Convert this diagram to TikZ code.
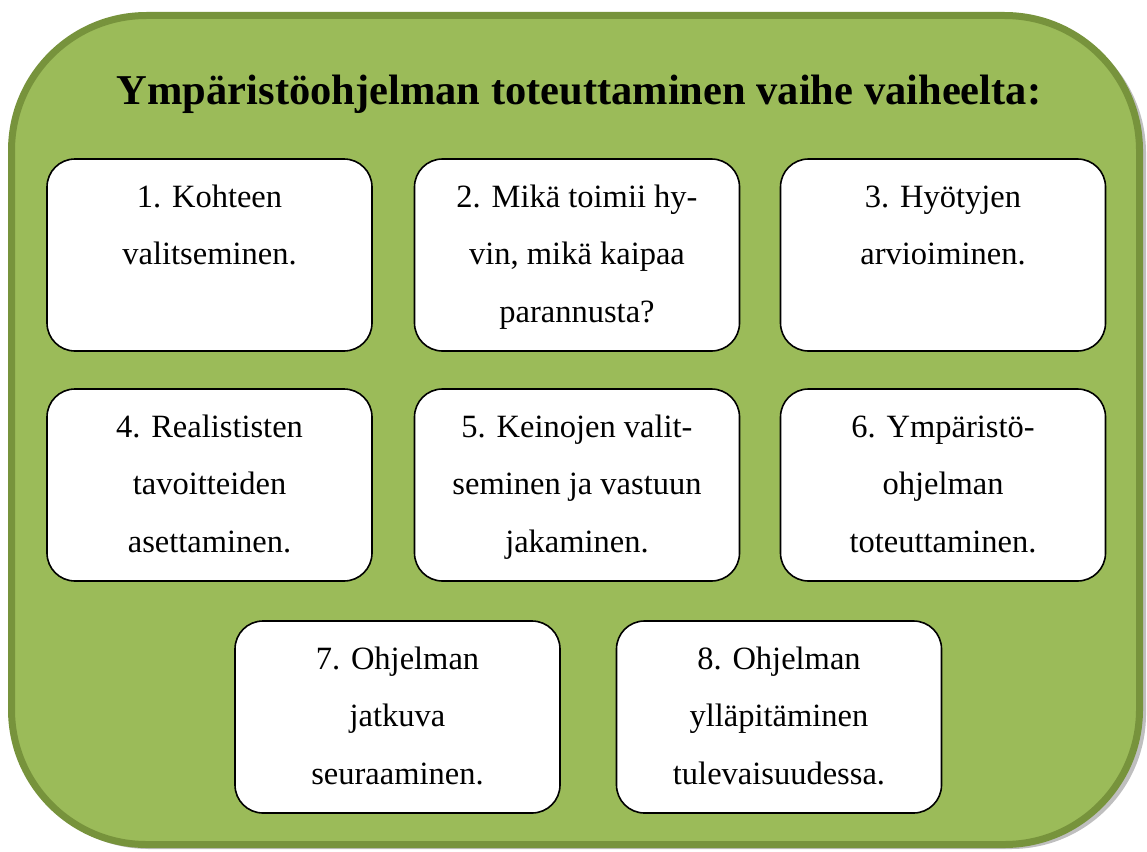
\documentclass[tikz,border=0pt]{standalone}
\usepackage{fontspec}
\setmainfont{Liberation Serif}
\definecolor{lehti}{HTML}{9BBB59}
\definecolor{reuna}{HTML}{77933C}
\newcommand{\vtxt}[1]{\parbox[t][192pt][t]{320pt}{\centering\fontsize{32.5}{57.5}\selectfont\rule{0pt}{48pt}#1}}

\begin{document}
\begin{tikzpicture}[x=1pt,y=-1pt,
        v/.style={rectangle,draw=black,fill=white,line width=1.6pt,rounded corners=28pt,inner sep=0pt,minimum width=325pt,minimum height=192pt},
        kehys/.style={line width=7pt,rounded corners=135pt}]
    \useasboundingbox (0,0) rectangle (1147,851);
    % tausta ja varjo
    \fill[black!25,rounded corners=135pt] (14,18) rectangle (1146,849);
    \draw[kehys,draw=reuna,fill=lehti] (11.5,15.5) rectangle (1139.5,844.5);
    \node[font=\bfseries\fontsize{42.5}{50}\selectfont,anchor=base] (otsikko) at (579,104) {Ympäristöohjelman toteuttaminen vaihe vaiheelta:};

    \node[v] (k1) at (209.5,255) {\vtxt{1. Kohteen\\valitseminen.}};
    \node[v] (k2) at (577,255) {\vtxt{2. Mikä toimii hy-\\vin, mikä kaipaa\\parannusta?}};
    \node[v] (k3) at (943,255) {\vtxt{3. Hyötyjen\\arvioiminen.}};

    \node[v] (k4) at (209.5,485) {\vtxt{4. Realististen\\tavoitteiden\\asettaminen.}};
    \node[v] (k5) at (577,485) {\vtxt{5. Keinojen valit-\\seminen ja vastuun\\jakaminen.}};
    \node[v] (k6) at (943,485) {\vtxt{6. Ympäristö-\\ohjelman\\toteuttaminen.}};

    \node[v] (k7) at (397.5,717) {\vtxt{7. Ohjelman\\jatkuva\\seuraaminen.}};
    \node[v] (k8) at (779,717) {\vtxt{8. Ohjelman\\ylläpitäminen\\tulevaisuudessa.}};
\end{tikzpicture}
\end{document}
